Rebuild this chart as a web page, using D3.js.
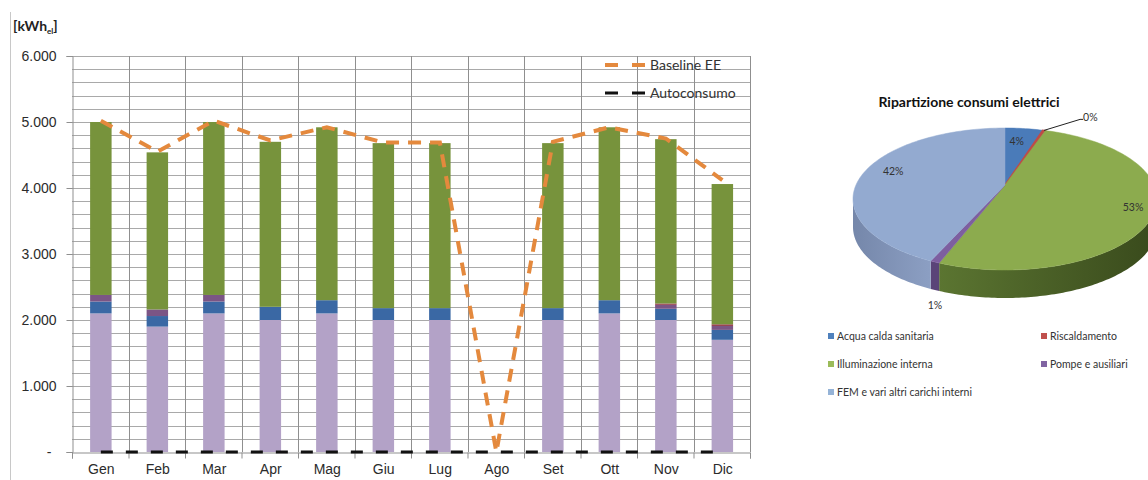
<!DOCTYPE html>
<html>
<head>
<meta charset="utf-8">
<script src="https://cdn.jsdelivr.net/npm/d3@7"></script>
<style>
  html, body { margin: 0; padding: 0; background: #fff; }
  svg { display: block; font-family: Lato, "Open Sans", "Liberation Sans", sans-serif; }
</style>
</head>
<body>
<svg id="chart" width="1148" height="480"></svg>
<script>
// Monthly electricity consumption [kWh_el]
const months = ["Gen", "Feb", "Mar", "Apr", "Mag", "Giu", "Lug", "Ago", "Set", "Ott", "Nov", "Dic"];
const femAltri      = [2100, 1900, 2100, 2000, 2100, 2000, 2000, 0, 2000, 2100, 2000, 1700];
const acquaCalda    = [180, 160, 180, 200, 200, 180, 180, 0, 180, 200, 170, 150];
const pompeAusiliari = [100, 100, 100, 0, 0, 0, 0, 0, 0, 0, 60, 60];
const riscaldamento = [0, 0, 0, 0, 0, 0, 0, 0, 0, 0, 20, 25];
const illuminazione = [2620, 2380, 2620, 2500, 2620, 2500, 2500, 0, 2500, 2620, 2490, 2125];
const baselineEE    = [5020, 4550, 5020, 4720, 4920, 4690, 4690, 0, 4700, 4920, 4750, 4120];
const autoconsumo   = [0, 0, 0, 0, 0, 0, 0, 0, 0, 0, 0, 0];
const yTickValues   = [0, 1000, 2000, 3000, 4000, 5000, 6000];

// Yearly breakdown (%)
const pieCategories = ["Acqua calda sanitaria", "Riscaldamento", "Illuminazione interna", "Pompe e ausiliari", "FEM e vari altri carichi interni"];
const pieShares     = [4, 0.3, 53, 1, 42];

const svg = d3.select("#chart");
svg.append("rect").attr("width", 1148).attr("height", 480).attr("fill", "#fff");

// left frame edge
svg.append("line").attr("x1", 10.5).attr("x2", 10.5).attr("y1", 12).attr("y2", 480)
  .attr("stroke", "#c8c8c8").attr("stroke-width", 1);

/* ---------------- stacked bar chart ---------------- */
const it = d3.formatLocale({ decimal: ",", thousands: ".", grouping: [3], currency: ["€", ""] });
const fmt = it.format(",.0f");

const plot = { left: 72, right: 750, top: 56, bottom: 452 };
const x = d3.scaleBand().domain(months).range([plot.left, plot.right]);
const y = d3.scaleLinear().domain([0, 6000]).range([plot.bottom, plot.top]);
const bw = x.bandwidth();
const barW = bw * 0.38;

// horizontal grid (every 200)
svg.append("g").selectAll("line").data(d3.range(200, 6001, 200)).join("line")
  .attr("x1", plot.left).attr("x2", plot.right)
  .attr("y1", d => Math.round(y(d)) + 0.5).attr("y2", d => Math.round(y(d)) + 0.5)
  .attr("stroke", "#a9a9a9").attr("stroke-width", 1);

// vertical grid on category boundaries
const xb = d3.scaleLinear().domain([0, months.length]).range([plot.left, plot.right]);
svg.append("g").selectAll("line").data(d3.range(1, months.length + 1)).join("line")
  .attr("x1", d => Math.round(xb(d)) + 0.5).attr("x2", d => Math.round(xb(d)) + 0.5)
  .attr("y1", plot.top).attr("y2", plot.bottom)
  .attr("stroke", "#8f8f8f").attr("stroke-width", 1);

// stacked bars
const rows = months.map((m, i) => ({
  month: m,
  fem: femAltri[i], acqua: acquaCalda[i], pompe: pompeAusiliari[i],
  risc: riscaldamento[i], illum: illuminazione[i]
}));
const keys = ["fem", "acqua", "pompe", "risc", "illum"];
const barColors = { fem: "#b3a2c7", acqua: "#3a68a4", pompe: "#7b5585", risc: "#953a4a", illum: "#77933c" };
const stacked = d3.stack().keys(keys)(rows);

svg.append("g").selectAll("g").data(stacked).join("g")
  .attr("fill", s => barColors[s.key])
  .selectAll("rect").data(s => s).join("rect")
  .attr("x", d => x(d.data.month) + (bw - barW) / 2 + 0.6)
  .attr("width", barW)
  .attr("y", d => y(d[1]))
  .attr("height", d => Math.max(0, y(d[0]) - y(d[1])));

// axes
const yAxis = d3.axisLeft(y).tickValues(yTickValues).tickSize(6).tickPadding(10)
  .tickFormat(d => d === 0 ? "-" : fmt(d));
const gy = svg.append("g").attr("transform", `translate(${plot.left + 0.5},0)`).call(yAxis);
gy.select(".domain").attr("stroke", "#8f8f8f");
gy.selectAll(".tick line").attr("stroke", "#8f8f8f");
gy.selectAll(".tick text").attr("fill", "#2b2b2b").attr("font-size", 14)
  .attr("dx", d => d === 0 ? -5 : 0);

const gxTicks = svg.append("g").attr("transform", `translate(0,${plot.bottom + 0.5})`)
  .call(d3.axisBottom(xb).tickValues(d3.range(0, months.length + 1)).tickSize(6).tickFormat(""));
gxTicks.select(".domain").attr("stroke", "#8f8f8f");
gxTicks.selectAll(".tick line").attr("stroke", "#8f8f8f");

const gx = svg.append("g").attr("transform", `translate(0,${plot.bottom})`)
  .call(d3.axisBottom(x).tickSize(0).tickPadding(12));
gx.select(".domain").remove();
gx.selectAll(".tick text").attr("fill", "#2b2b2b").attr("font-size", 14)
  .attr("dx", 1);

// lines
const cxOf = i => x(months[i]) + bw / 2 + 0.6;
const line = d3.line().x((d, i) => cxOf(i)).y(d => y(d));

svg.append("path").datum(autoconsumo)
  .attr("d", line).attr("fill", "none")
  .attr("stroke", "#111").attr("stroke-width", 3).attr("stroke-dasharray", "12,13");

svg.append("path").datum(baselineEE)
  .attr("d", line).attr("fill", "none")
  .attr("stroke", "#e4893d").attr("stroke-width", 4).attr("stroke-dasharray", "13,9");

// y unit
const unit = svg.append("text").attr("x", 13).attr("y", 31)
  .attr("font-size", 14).attr("font-weight", "bold").attr("fill", "#222");
unit.append("tspan").text("[kWh");
unit.append("tspan").text("el").attr("font-size", 8).attr("dy", 3);
unit.append("tspan").text("]").attr("dy", -3);

// legend
const lineLegend = [
  { name: "Baseline EE", color: "#e4893d", width: 4 },
  { name: "Autoconsumo", color: "#111", width: 3 }
];
const lg = svg.append("g").selectAll("g").data(lineLegend).join("g")
  .attr("transform", (d, i) => `translate(605,${65 + i * 28})`);
lg.append("line").attr("x1", 0).attr("x2", 40).attr("y1", 0).attr("y2", 0)
  .attr("stroke", d => d.color).attr("stroke-width", d => d.width)
  .attr("stroke-dasharray", "13,14");
lg.append("text").attr("x", 45).attr("dy", "0.35em").attr("font-size", 14)
  .attr("fill", "#333").text(d => d.name);

/* ---------------- 3D pie chart ---------------- */
const pc = { cx: 1005, cy: 199, rx: 152, ry: 71, ax: 1005, ay: 185, h: 28 };
const pt = (a, dy = 0) => [pc.cx + pc.rx * Math.sin(a), pc.cy - pc.ry * Math.cos(a) + dy];
const arcPts = (a0, a1, dy = 0) => {
  const n = Math.max(2, Math.ceil((a1 - a0) / 0.02));
  return d3.range(n + 1).map(k => pt(a0 + (a1 - a0) * k / n, dy));
};

const pieTop   = ["#4a7bb9", "#be4b48", "#8cab4e", "#7d5fa0", "#93aad0"];
const pieSideL = ["#2f5585", "#8a3230", "#5b7531", "#5a4478", "#7587aa"];
const pieSideR = ["#2f5585", "#8a3230", "#394a1c", "#5a4478", "#8c9fc3"];
const legendColors = ["#4f81bd", "#c0504d", "#9bbb59", "#8064a2", "#95b3d7"];

const arcs = d3.pie().sort(null).value(d => d)(pieShares);
const defs = svg.append("defs");
const poly = d3.line().curve(d3.curveLinearClosed);

const pieG = svg.append("g");
// side walls on the front half
arcs.forEach((a, i) => {
  const s = Math.max(a.startAngle, Math.PI / 2);
  const e = Math.min(a.endAngle, 3 * Math.PI / 2);
  if (s >= e) return;
  const top = arcPts(s, e);
  const bot = arcPts(s, e, pc.h).reverse();
  const gid = "side" + i;
  const xr = pt(s)[0], xl = pt(e)[0];
  const g = defs.append("linearGradient").attr("id", gid)
    .attr("gradientUnits", "userSpaceOnUse")
    .attr("x1", xl).attr("x2", xr).attr("y1", 0).attr("y2", 0);
  g.append("stop").attr("offset", 0).attr("stop-color", pieSideL[i]);
  g.append("stop").attr("offset", 1).attr("stop-color", pieSideR[i]);
  pieG.append("path").attr("d", poly(top.concat(bot))).attr("fill", `url(#${gid})`);
});
// top faces
arcs.forEach((a, i) => {
  const pts = [[pc.ax, pc.ay]].concat(arcPts(a.startAngle, a.endAngle));
  pieG.append("path").attr("d", poly(pts)).attr("fill", pieTop[i])
    .attr("stroke", pieTop[i]).attr("stroke-width", i === 1 ? 1.5 : 0.5);
});

// labels
const pct = d => d3.format(".0f")(d) + "%";
const labelK = [0.62, null, 0.9, null, 0.76];
const pieLabels = svg.append("g").attr("font-size", 10.5).attr("fill", "#333");
arcs.forEach((a, i) => {
  const mid = (a.startAngle + a.endAngle) / 2;
  if (labelK[i] !== null) {
    pieLabels.append("text")
      .attr("x", pc.ax + labelK[i] * pc.rx * Math.sin(mid))
      .attr("y", pc.ay - labelK[i] * pc.ry * Math.cos(mid))
      .attr("text-anchor", "middle").attr("dy", "0.35em").text(pct(a.data));
  } else if (i === 1) {
    const p0 = pt(mid);
    const p1 = [p0[0] + 36, p0[1] - 11];
    pieLabels.append("path").attr("d", d3.line()([p0, p1, [p1[0] + 3, p1[1]]]))
      .attr("fill", "none").attr("stroke", "#222").attr("stroke-width", 1);
    pieLabels.append("text").attr("x", p1[0] + 3).attr("y", p1[1] - 2)
      .attr("dy", "0.35em").text(pct(a.data));
  } else {
    const p0 = pt(mid, pc.h);
    pieLabels.append("text").attr("x", p0[0]).attr("y", p0[1] + 15)
      .attr("text-anchor", "middle").attr("dy", "0.35em").text(pct(a.data));
  }
});

svg.append("text").attr("x", 969).attr("y", 107).attr("text-anchor", "middle")
  .attr("font-size", 14).attr("font-weight", "bold").attr("fill", "#111")
  .text("Ripartizione consumi elettrici");

// pie legend (two columns)
const pl = svg.append("g").selectAll("g").data(pieCategories).join("g")
  .attr("transform", (d, i) => `translate(${i % 2 === 0 ? 828 : 1041},${336 + Math.floor(i / 2) * 28})`);
pl.append("rect").attr("x", 0).attr("y", -3).attr("width", 6).attr("height", 6)
  .attr("fill", (d, i) => legendColors[i]);
pl.append("text").attr("x", 9).attr("dy", "0.35em").attr("font-size", 10.5)
  .attr("fill", "#333").text(d => d);
</script>
</body>
</html>
